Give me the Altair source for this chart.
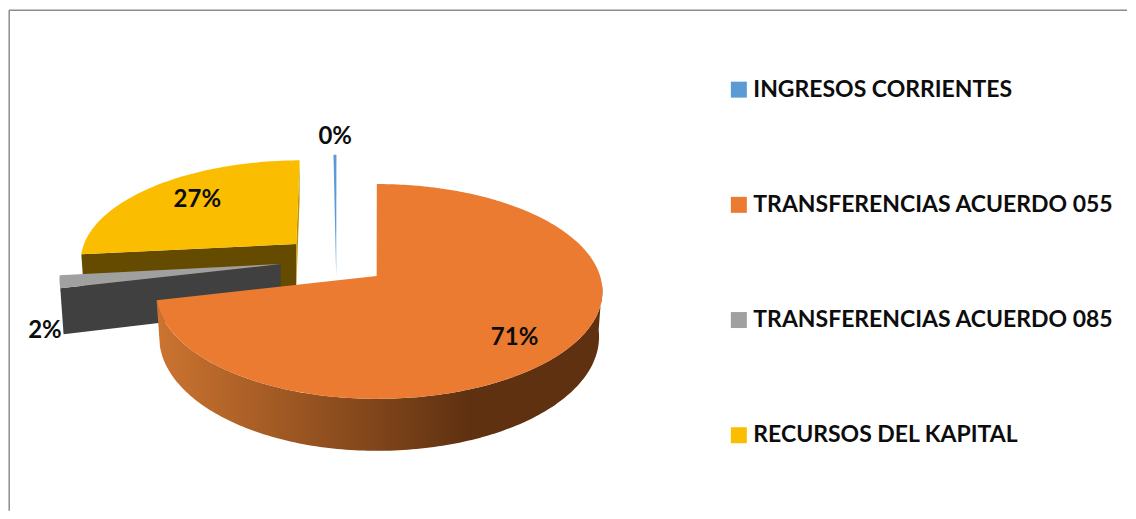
import math
import altair as alt
import pandas as pd

# ---- data ----
categories = ["INGRESOS CORRIENTES", "TRANSFERENCIAS ACUERDO 055",
              "TRANSFERENCIAS ACUERDO 085", "RECURSOS DEL KAPITAL"]
percent = [0.15, 71.4, 1.9, 26.55]

# ---- styles ----
colors = ["#5B9BD5", "#EA7B30", "#A0A0A0", "#FBBD00"]
FONT = "Lato"
TEXT = "#0D0D0D"
W, H = 1120, 503

# 3-D view of the exploded pie (picture pixels)
A, B, K = 223.6, 105.3, 0.144
DEPTH = 44.5
SHRINK = 0.985
ROT = -0.5
# apex x, apex y, width scale right, width scale left, height scale, lean
apex = {
    categories[0]: (336.5, 277, 1.6, 1.6, 1.33, 0.0),
    categories[1]: (377, 276, 1.0, 0.978, 1.0, 0.0),
    categories[2]: (281, 264, 0.98, 0.98, 1.0, 0.0),
    categories[3]: (296.5, 244, 0.95, 0.95, 0.91, 0.06),
}
label_pos = {
    categories[0]: (335.5, 136.5),
    categories[1]: (515, 338),
    categories[2]: (45, 331),
    categories[3]: (197.5, 200),
}

# slice angles come from the values
spans = {}
acc = ROT
for c, p in zip(categories, percent):
    spans[c] = (acc, acc + p * 3.6)
    acc += p * 3.6


def project(cat, deg, r=1.0, low=False):
    ax, ay, sr, sl, sb, lean = apex[cat]
    t = math.radians(deg)
    u, v = r * math.sin(t), -r * math.cos(t)
    d = 1 - K * v
    x = A * (sr if u >= 0 else sl) * u / d
    y = B * sb * v / d
    x -= lean * y
    if low:
        x *= SHRINK
        y += DEPTH / d
    return ax + x, ay + y


def frame(points, cat):
    return pd.DataFrame([{"x": x, "y": y, "seq": i, "cat": cat}
                         for i, (x, y) in enumerate(points)])


def angles(a0, a1, step=1.0):
    n = max(2, int(abs(a1 - a0) / step) + 1)
    return [a0 + (a1 - a0) * i / (n - 1) for i in range(n)]


def top_face(cat):
    a0, a1 = spans[cat]
    pts = [project(cat, 0, 0)] + [project(cat, a) for a in angles(a0, a1)]
    return frame(pts, cat)


def cut_face(cat, a):
    pts = [project(cat, 0, 0), project(cat, a),
           project(cat, a, 1, True), project(cat, 0, 0, True)]
    return frame(pts, cat)


def wall(cat, a0, a1):
    aa = angles(a0, a1)
    pts = [project(cat, a) for a in aa] + [project(cat, a, 1, True) for a in reversed(aa)]
    return frame(pts, cat)


xs = alt.X("x:Q", axis=None, scale=alt.Scale(domain=[8, 8 + W], nice=False, zero=False))
ys = alt.Y("y:Q", axis=None, scale=alt.Scale(domain=[8 + H, 8], nice=False, zero=False))
order = alt.Order("seq:Q")

legend = alt.Legend(
    title=None, orient="none", legendX=720, legendY=70,
    symbolType="square", symbolSize=256, symbolStrokeWidth=0,
    labelFont=FONT, labelFontWeight="bold", labelFontSize=23, labelColor=TEXT,
    labelLimit=0, labelOffset=3, rowPadding=91.3,
)
color = alt.Color("cat:N", legend=legend,
                  scale=alt.Scale(domain=categories, range=colors))


def face(df):
    return alt.Chart(df).mark_line(filled=True, strokeWidth=0, interpolate="linear-closed").encode(
        x=xs, y=ys, order=order, color=color)


def side(df, fill):
    return alt.Chart(df).mark_line(filled=True, fill=fill, strokeWidth=0,
                                   interpolate="linear-closed").encode(x=xs, y=ys, order=order)


ing, t55, t85, rec = categories
orange_grad = alt.Gradient(
    gradient="linear", x1=0, x2=1, y1=0, y2=0,
    stops=[alt.GradientStop(offset=0, color="#CC7430"),
           alt.GradientStop(offset=0.7, color="#5F3111"),
           alt.GradientStop(offset=1, color="#5F3111")],
)

layers = [
    side(cut_face(rec, spans[rec][0]), "#654B00"),
    side(cut_face(rec, spans[rec][1]), "#C29200"),
    face(top_face(rec)),
    side(cut_face(t85, spans[t85][0]), "#404040"),
    face(top_face(t85)),
    side(wall(t55, 95, spans[t55][1]), orange_grad),
    face(top_face(t55)),
    face(top_face(ing)),
]

labels = pd.DataFrame({
    "x": [label_pos[c][0] for c in categories],
    "y": [label_pos[c][1] for c in categories],
    "t": [f"{round(p)}%" for p in percent],
})
text = alt.Chart(labels).mark_text(font=FONT, fontWeight="bold", fontSize=24, color=TEXT).encode(
    x=xs, y=ys, text="t:N")

border = alt.Chart(pd.DataFrame({"a": [0]}))
border_left = border.mark_rule(color="#8C8C8C", strokeWidth=1.5).encode(
    x=alt.value(1.2), y=alt.value(2), y2=alt.value(H))
border_top = border.mark_rule(color="#8C8C8C", strokeWidth=1.5).encode(
    x=alt.value(1), x2=alt.value(W), y=alt.value(2))

chart = alt.layer(border_left, border_top, *layers, text).properties(
    width=W, height=H, padding=0, background="white",
).configure_view(stroke=None)

chart.save("out.html", embed_options={"renderer": "svg", "actions": False})
